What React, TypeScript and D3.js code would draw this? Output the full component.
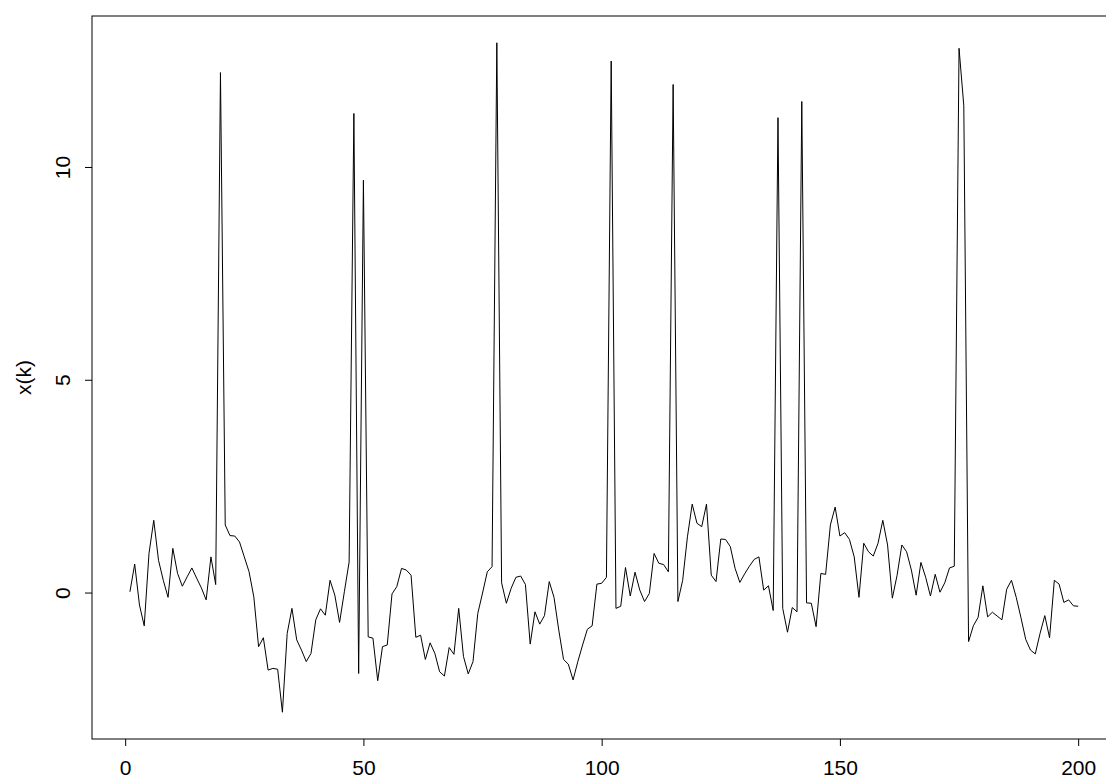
import React, { useEffect, useRef } from "react";
import * as d3 from "d3";

// series x(k), k = 1..200
const values: number[] = [
  0.03, 0.68, -0.28, -0.77, 0.93, 1.71, 0.77, 0.3, -0.1, 1.05,
  0.46, 0.16, 0.38, 0.59, 0.35, 0.12, -0.16, 0.85, 0.2, 12.23,
  1.6, 1.35, 1.34, 1.2, 0.85, 0.5, -0.09, -1.26, -1.05, -1.81,
  -1.77, -1.79, -2.8, -0.95, -0.36, -1.1, -1.34, -1.61, -1.42, -0.63,
  -0.37, -0.52, 0.3, -0.05, -0.69, 0.03, 0.73, 11.27, -1.89, 9.7,
  -1.03, -1.06, -2.06, -1.26, -1.22, -0.02, 0.15, 0.58, 0.54, 0.42,
  -1.04, -0.99, -1.56, -1.17, -1.42, -1.85, -1.95, -1.28, -1.44, -0.36,
  -1.49, -1.9, -1.61, -0.48, 0.0, 0.5, 0.62, 12.93, 0.24, -0.24,
  0.11, 0.37, 0.4, 0.2, -1.2, -0.44, -0.73, -0.53, 0.27, -0.1,
  -0.87, -1.56, -1.67, -2.04, -1.61, -1.22, -0.85, -0.77, 0.21, 0.23,
  0.37, 12.5, -0.36, -0.31, 0.6, -0.07, 0.49, 0.07, -0.2, -0.01,
  0.93, 0.7, 0.67, 0.5, 11.95, -0.2, 0.3, 1.32, 2.09, 1.64,
  1.56, 2.09, 0.42, 0.27, 1.27, 1.26, 1.09, 0.58, 0.25, 0.45,
  0.63, 0.79, 0.85, 0.07, 0.17, -0.41, 11.17, -0.36, -0.92, -0.34,
  -0.44, 11.55, -0.23, -0.24, -0.79, 0.46, 0.44, 1.6, 2.02, 1.34,
  1.42, 1.26, 0.85, -0.1, 1.17, 0.97, 0.87, 1.17, 1.71, 1.13,
  -0.12, 0.42, 1.13, 0.97, 0.54, -0.05, 0.72, 0.37, -0.07, 0.44,
  0.02, 0.24, 0.59, 0.63, 12.8, 11.45, -1.14, -0.77, -0.57, 0.17,
  -0.56, -0.45, -0.54, -0.63, 0.09, 0.3, -0.1, -0.58, -1.09, -1.34,
  -1.43, -0.95, -0.53, -1.05, 0.3, 0.21, -0.22, -0.16, -0.3, -0.31,
];
const xTicks = [0, 50, 100, 150, 200];
const yTicks = [0, 5, 10];
const yLabel = "x(k)";

const W = 1106;
const H = 784;
const FONT = "'Liberation Sans', Arial, sans-serif";

export default function App() {
  const svgRef = useRef<SVGSVGElement>(null);

  useEffect(() => {
    const svg = d3.select(svgRef.current);
    svg.selectAll("*").remove();

    // R style 4% padding of the data range
    const n = values.length;
    const xr = n - 1;
    const [ymin, ymax] = d3.extent(values) as [number, number];
    const yr = ymax - ymin;

    const left = 92;
    const top = 16;
    const bottom = 739;
    const pxPerUnit = 4.765;
    const right = left + xr * 1.08 * pxPerUnit;

    const x = d3
      .scaleLinear()
      .domain([1 - xr * 0.04, n + xr * 0.04])
      .range([left, right]);
    const y = d3
      .scaleLinear()
      .domain([ymin - yr * 0.04, ymax + yr * 0.04])
      .range([bottom, top]);

    svg
      .append("rect")
      .attr("x", left)
      .attr("y", top)
      .attr("width", right - left)
      .attr("height", bottom - top)
      .attr("fill", "none")
      .attr("stroke", "#000")
      .attr("stroke-width", 1);

    const line = d3
      .line<number>()
      .x((_, i) => x(i + 1))
      .y((d) => y(d));

    svg
      .append("path")
      .datum(values)
      .attr("d", line)
      .attr("fill", "none")
      .attr("stroke", "#000")
      .attr("stroke-width", 1)
      .attr("stroke-linejoin", "round");

    // x axis
    const xa = svg
      .append("g")
      .attr("transform", `translate(0,${bottom})`)
      .call(d3.axisBottom(x).tickValues(xTicks).tickSize(7).tickPadding(14).tickSizeOuter(0));
    xa.select(".domain").remove();
    xa.selectAll("text").style("font-family", FONT).style("font-size", "21px").attr("fill", "#000");

    // y axis, drawn by hand so labels can be rotated like R does
    const ya = svg.append("g");
    ya.selectAll("line")
      .data(yTicks)
      .join("line")
      .attr("x1", left - 7)
      .attr("x2", left)
      .attr("y1", (d) => y(d))
      .attr("y2", (d) => y(d))
      .attr("stroke", "#000");
    ya.selectAll("text")
      .data(yTicks)
      .join("text")
      .attr("transform", (d) => `translate(${left - 22},${y(d)}) rotate(-90)`)
      .attr("text-anchor", "middle")
      .style("font-family", FONT)
      .style("font-size", "21px")
      .attr("fill", "#000")
      .text((d) => d);

    svg
      .append("text")
      .attr("transform", `translate(31,${(top + bottom) / 2}) rotate(-90)`)
      .attr("text-anchor", "middle")
      .style("font-family", FONT)
      .style("font-size", "21px")
      .text(yLabel);
  }, []);

  return (
    <svg
      ref={svgRef}
      width={W}
      height={H}
      style={{ position: "absolute", left: 0, top: 0, background: "#fff" }}
    />
  );
}
